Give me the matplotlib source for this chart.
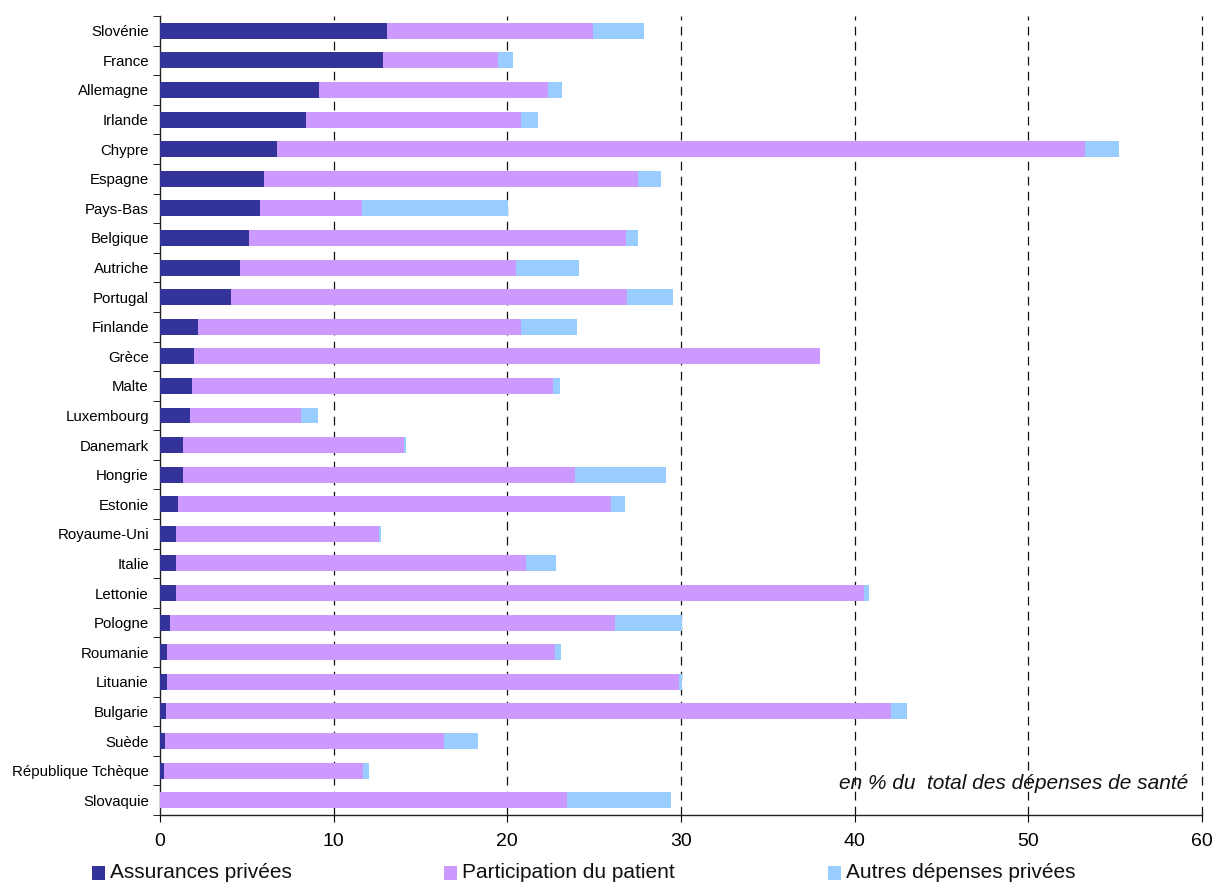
import matplotlib

matplotlib.use("Agg")
import matplotlib.pyplot as plt
from matplotlib.patches import Rectangle
import numpy as np

plt.rcParams["font.family"] = ["Liberation Sans", "DejaVu Sans"]

# ---- data (top to bottom as displayed) ---------------------------------------
pays = ["Slovénie", "France", "Allemagne", "Irlande", "Chypre", "Espagne",
        "Pays-Bas", "Belgique", "Autriche", "Portugal", "Finlande", "Grèce",
        "Malte", "Luxembourg", "Danemark", "Hongrie", "Estonie", "Royaume-Uni",
        "Italie", "Lettonie", "Pologne", "Roumanie", "Lituanie", "Bulgarie",
        "Suède", "République Tchèque", "Slovaquie"]
assurances = [13.06, 12.83, 9.15, 8.38, 6.71, 5.97, 5.73, 5.12, 4.60, 4.06,
              2.19, 1.95, 1.83, 1.72, 1.31, 1.31, 1.03, 0.95, 0.90, 0.90,
              0.57, 0.39, 0.39, 0.33, 0.28, 0.21, 0.0]
participation = [11.86, 6.66, 13.22, 12.40, 46.53, 21.54, 5.89, 21.70, 15.89,
                 22.81, 18.59, 36.05, 20.80, 6.38, 12.76, 22.58, 24.94, 11.65,
                 20.16, 39.63, 25.63, 22.34, 29.49, 41.75, 16.07, 11.46, 23.42]
autres = [2.95, 0.82, 0.77, 0.97, 1.98, 1.34, 8.41, 0.69, 3.63, 2.68, 3.21,
          0.0, 0.38, 0.98, 0.07, 5.24, 0.80, 0.10, 1.72, 0.27, 3.86, 0.36,
          0.18, 0.92, 1.96, 0.36, 6.00]

series = ["Assurances privées", "Participation du patient", "Autres dépenses privées"]
colors = ["#333399", "#CC99FF", "#99CCFF"]

fig = plt.figure(figsize=(12.17, 8.84), dpi=100)
ax = fig.add_axes([160 / 1217, 69 / 884, 1042 / 1217, 799 / 884])

y = np.arange(len(pays))
left = np.zeros(len(pays))
for vals, c in zip([assurances, participation, autres], colors):
    ax.barh(y, vals, left=left, height=0.54, color=c, edgecolor="none", zorder=3)
    left += np.array(vals)

ax.set_xlim(0, 60)
ax.set_ylim(len(pays) - 0.5, -0.5)
ax.set_xticks(np.arange(0, 61, 10))
ax.tick_params(axis="x", labelsize=14, length=5, direction="out", pad=8)
ax.set_yticks(y)
ax.set_yticklabels(pays)
ax.set_yticks(np.arange(-0.5, len(pays), 1), minor=True)
ax.tick_params(axis="y", which="major", length=0, labelsize=10.8, pad=8)
ax.tick_params(axis="y", which="minor", length=5, direction="out")

for xv in range(10, 61, 10):
    ax.axvline(xv, color="#111111", lw=0.9, ls=(0, (7, 5)), zorder=2, clip_on=False)

for side in ["top", "right"]:
    ax.spines[side].set_visible(False)
for side in ["left", "bottom"]:
    ax.spines[side].set_color("#222222")
    ax.spines[side].set_linewidth(1.0)

ax.text(59.2, 25.45, "en % du  total des dépenses de santé", ha="right", va="center",
        fontsize=15, style="italic", color="#111111", zorder=1)

# ---- legend (Excel style, bottom) ---------------------------------------------
leg_x = [92, 444, 828]
for lx, lab, c in zip(leg_x, series, colors):
    fig.patches.append(Rectangle((lx / 1217, (884 - 880) / 884), 13 / 1217, 14 / 884,
                                 transform=fig.transFigure, facecolor=c, edgecolor="none"))
    fig.text((lx + 18) / 1217, (884 - 873) / 884, lab, ha="left", va="center",
             fontsize=15, color="#111111")

fig.savefig("out.png", dpi=100, facecolor="white")
